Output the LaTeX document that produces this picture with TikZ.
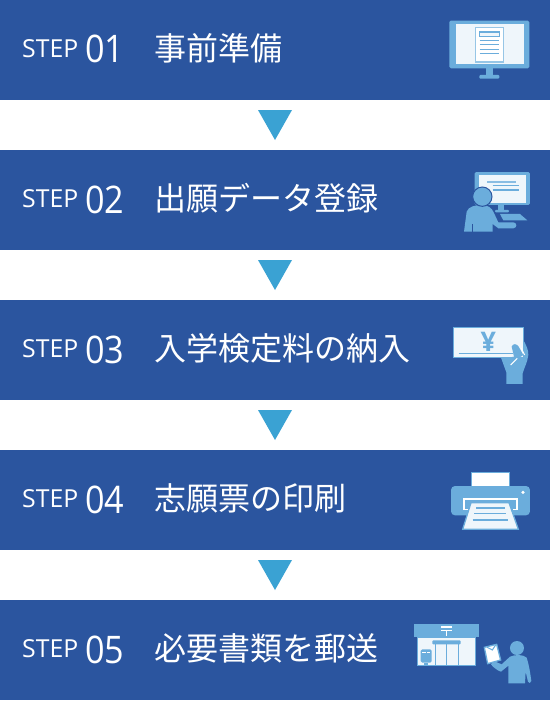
\documentclass[tikz,border=0pt]{standalone}
\usepackage{fontspec}
\setmainfont{Open Sans}
\newfontfamily\numfont[FakeStretch=0.9]{Open Sans}
\newfontfamily\cjk{Noto Sans CJK JP}
\definecolor{bandblue}{HTML}{2B559F}
\definecolor{tri}{HTML}{3AA2D3}
\definecolor{lite}{HTML}{6BADDC}
\definecolor{pale}{HTML}{EFF6FB}
\begin{document}
\begin{tikzpicture}[x=1pt,y=-1pt,
  band/.style={fill=bandblue,draw=none,minimum width=550pt,minimum height=100pt,inner sep=0,outer sep=0,anchor=north west},
  steplabel/.style={text=white,anchor=base west,inner sep=0,font=\fontsize{24.8}{24.8}\selectfont},
  stepnum/.style={text=white,anchor=base west,inner sep=0,font=\numfont\fontsize{38}{38}\selectfont},
  title/.style={text=white,anchor=base west,inner sep=0,font=\cjk\fontsize{32}{32}\selectfont},
  down/.style={fill=tri,draw=none},
  ic/.style={fill=lite,draw=none},
  pl/.style={fill=pale,draw=lite,line width=1.3pt},
  ln/.style={draw=lite,line width=1.4pt},
  zoomed/.style={x=0.3333pt,y=-0.3333pt}]
\path[use as bounding box,fill=white] (0,0) rectangle (550,701);
\foreach \y/\n/\t [count=\i] in {0/01/事前準備,150/02/出願データ登録,300/03/入学検定料の納入,450/04/志願票の印刷,600/05/必要書類を郵送}{
  \node[band] (b\i) at (0,\y) {};
  \node[steplabel] (s\i) at (22,\y+57) {STEP};
  \node[stepnum] (n\i) at (85,\y+63) {\n};
  \node[title] (t\i) at (154,\y+60) {\t};
}
\foreach \y in {110,260,410,560}
  \fill[down] (258,\y) -- (292,\y) -- (275,\y+30) -- cycle;
% icon 1
\begin{scope}[shift={(400,0)},zoomed]
  \fill[ic,rounded corners=1.5pt] (148,62) rectangle (388,205);
  \fill[ic] (258,205) rectangle (280,226);
  \fill[ic,rounded corners=1pt] (238,225) rectangle (298,236);
  \fill[pale] (167,72) rectangle (372,193);
  \draw[fill=white,draw=lite!70,line width=1.4pt] (226,82) rectangle (311,186);
  \draw[fill=pale,draw=lite,line width=1.4pt] (238,96) rectangle (299,109);
  \foreach \v in {121,134,148,160} \draw[ln] (239,\v) -- (298,\v);
\end{scope}
% icon 2
\begin{scope}[shift={(440,160)},zoomed]
  \fill[ic,rounded corners=1.5pt] (104,36) rectangle (270,135);
  \fill[pale] (116,44) rectangle (258,128);
  \draw[draw=lite!80,line width=1.8pt] (141,66) -- (228,66);
  \draw[ln] (158,76) -- (236,76) (158,90) -- (236,90);
  \fill[ic] (175,135) rectangle (193,150);
  \fill[ic,rounded corners=1pt] (165,150) rectangle (207,157);
  \fill[ic] (180,162) -- (240,162) -- (262,181) -- (190,181) -- cycle;
  \fill[ic] (72,215) -- (80,155) .. controls (85,140) and (105,135) .. (125,135) .. controls (145,135) and (155,145) .. (160,155) -- (175,187) -- (220,187) .. controls (232,188) and (232,204) .. (220,205) -- (175,205) -- (158,192) -- (158,215) -- cycle;
  \draw[bandblue,line width=.8pt] (96,192) -- (96,215);
  \draw[fill=lite,draw=bandblue,line width=1pt] (127,110) circle (29);
\end{scope}
% icon 3
\begin{scope}[shift={(440,315)},zoomed]
  \fill[ic] (183,128) -- (250,75) .. controls (258,90) and (266,105) .. (265,120) .. controls (263,140) and (252,160) .. (248,175) -- (248,207) -- (199,207) -- (199,172) -- cycle;
  \draw[pl] (41,38) rectangle (250,128);
  \node[text=lite,inner sep=0,font=\fontsize{27}{27}\selectfont\bfseries] (yen) at (145,81) {¥};
  \draw[ln] (56,115) -- (218,115);
  \fill[ic] (215,95) .. controls (218,85) and (230,85) .. (236,95) -- (250,120) -- (235,130) -- (215,150) -- (205,128) -- (222,125) -- cycle;
  \draw[white,line width=1pt] (244,100) -- (254,120) (232,130) -- (212,150);
\end{scope}
% icon 4
\begin{scope}[shift={(440,460)},zoomed]
  \draw[fill=white,draw=lite,line width=1.3pt] (95,37) rectangle (208,82);
  \fill[ic,rounded corners=4pt] (33,78) rectangle (270,166);
  \fill[white] (249,97) circle (5.5);
  \draw[white,line width=1.3pt] (85,148) -- (72,148) -- (72,117) -- (231,117) -- (231,148) -- (218,148);
  \draw[pl] (93,128) -- (207,128) -- (235,208) -- (68,208) -- cycle;
  \draw[ln] (108,144) -- (195,144) (103,160) -- (199,160) (98,180) -- (204,180);
\end{scope}
% icon 5
\begin{scope}[shift={(405,615)},zoomed]
  \fill[ic] (27,27) rectangle (221,66);
  \draw[pl] (38,66) rectangle (211,152);
  \draw[white,line width=1.3pt] (108,36) -- (140,36) (108,46) -- (140,46) (124,46) -- (124,62);
  \draw[ln,line width=1.6pt] (91,88) -- (91,150) (125,88) -- (125,150) (160,88) -- (160,150);
  \fill[ic,rounded corners=1pt] (82,76) rectangle (167,88);
  \fill[ic,rounded corners=1.5pt] (47,103) rectangle (80,143);
  \fill[ic] (57,143) rectangle (70,152);
  \draw[white,line width=.8pt] (52,113) -- (62,113) (66,113) -- (76,113);
  \fill[ic] (336,99) circle (21);
  \fill[ic] (310,205) -- (310,152) -- (288,170) .. controls (280,168) and (265,158) .. (258,148) -- (266,138) -- (290,148) -- (315,125) .. controls (330,118) and (355,118) .. (365,128) .. controls (372,150) and (376,175) .. (379,198) .. controls (379,205) and (370,206) .. (369,200) -- (362,170) -- (360,205) -- cycle;
  \draw[fill=white,draw=lite,line width=1.3pt] (238,97) -- (275,88) -- (287,135) -- (248,146) -- cycle;
  \draw[ln,line width=1pt] (245,96) -- (262,105) -- (272,90);
\end{scope}
\end{tikzpicture}
\end{document}
